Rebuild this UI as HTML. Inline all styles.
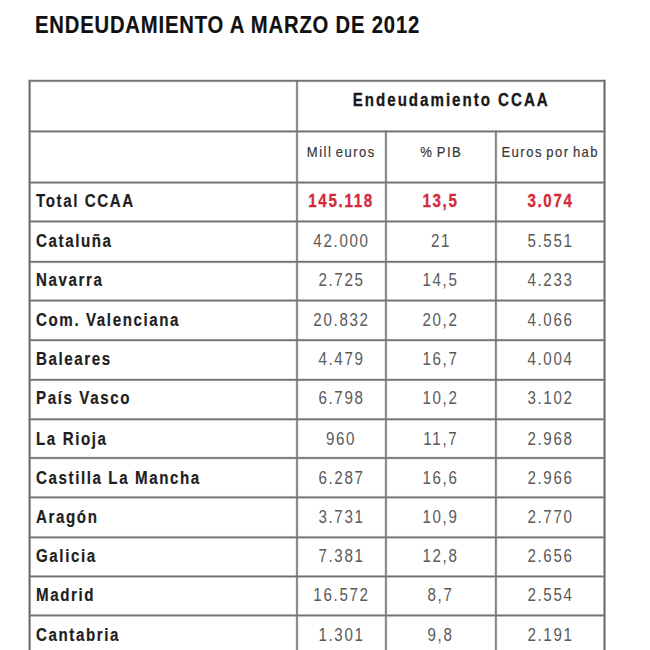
<!DOCTYPE html>
<html><head><meta charset="utf-8"><style>
html,body{margin:0;padding:0;background:#fff;width:650px;height:650px;overflow:hidden;position:relative;font-family:"Liberation Sans",sans-serif;}
.l{position:absolute;background:#767676;}
.t{position:absolute;white-space:nowrap;line-height:1;}
.title{left:35px;top:15.3px;font-size:22.5px;font-weight:bold;color:#111;letter-spacing:0.9px;-webkit-text-stroke:0.2px #111;}
.title span{display:inline-block;transform:scaleX(0.9) scaleY(1.035);transform-origin:0 80%;}
.hd{font-size:18px;font-weight:bold;color:#181818;letter-spacing:2.36px;-webkit-text-stroke:0.3px #181818;}
.hd span{display:inline-block;transform:scaleX(0.84);}
.sh{font-size:14.5px;color:#383838;letter-spacing:1.65px;word-spacing:-2px;-webkit-text-stroke:0.2px #383838;}
.sh span{display:inline-block;transform:scaleX(0.9);}
.lb{font-size:18px;font-weight:bold;color:#1e1e1e;letter-spacing:1.9px;-webkit-text-stroke:0.2px #1e1e1e;}
.lb span{display:inline-block;transform:scaleX(0.84);transform-origin:0 50%;}
.v{font-size:18px;color:#5a5a5a;letter-spacing:2px;}
.v span,.r span{display:inline-block;transform:scaleX(0.84);}
.r{font-size:18px;font-weight:bold;color:#d42a3c;letter-spacing:2px;-webkit-text-stroke:0.3px #d42a3c;}
.c{display:flex;align-items:center;justify-content:center;}
#w{position:absolute;left:0;top:0;width:650px;height:650px;}
</style></head><body><div id="w">
<div class="t title"><span>ENDEUDAMIENTO A MARZO DE 2012</span></div>
<svg style="position:absolute;left:0;top:0" width="650" height="650" shape-rendering="geometricPrecision"><rect x="28.10" y="79.30" width="3.00" height="577.00" fill="#e0e0e0"/><rect x="295.50" y="79.30" width="3.00" height="577.00" fill="#e0e0e0"/><rect x="384.40" y="129.95" width="3.00" height="526.35" fill="#e0e0e0"/><rect x="494.40" y="129.95" width="3.00" height="526.35" fill="#e0e0e0"/><rect x="603.00" y="79.30" width="3.00" height="577.00" fill="#e0e0e0"/><rect x="28.10" y="79.30" width="577.90" height="3.00" fill="#e0e0e0"/><rect x="28.10" y="129.95" width="577.90" height="3.00" fill="#e0e0e0"/><rect x="28.10" y="181.05" width="577.90" height="3.00" fill="#e0e0e0"/><rect x="28.10" y="219.94" width="577.90" height="3.00" fill="#e0e0e0"/><rect x="28.10" y="260.33" width="577.90" height="3.00" fill="#e0e0e0"/><rect x="28.10" y="299.04" width="577.90" height="3.00" fill="#e0e0e0"/><rect x="28.10" y="338.68" width="577.90" height="3.00" fill="#e0e0e0"/><rect x="28.10" y="378.33" width="577.90" height="3.00" fill="#e0e0e0"/><rect x="28.10" y="417.80" width="577.90" height="3.00" fill="#e0e0e0"/><rect x="28.10" y="456.50" width="577.90" height="3.00" fill="#e0e0e0"/><rect x="28.10" y="495.87" width="577.90" height="3.00" fill="#e0e0e0"/><rect x="28.10" y="535.87" width="577.90" height="3.00" fill="#e0e0e0"/><rect x="28.10" y="574.96" width="577.90" height="3.00" fill="#e0e0e0"/><rect x="28.10" y="613.96" width="577.90" height="3.00" fill="#e0e0e0"/><rect x="28.10" y="653.30" width="577.90" height="3.00" fill="#e0e0e0"/><rect x="28.75" y="79.95" width="1.70" height="575.70" fill="#626262"/><rect x="296.15" y="79.95" width="1.70" height="575.70" fill="#7e7e7e"/><rect x="385.05" y="130.60" width="1.70" height="525.05" fill="#7e7e7e"/><rect x="495.05" y="130.60" width="1.70" height="525.05" fill="#7e7e7e"/><rect x="603.65" y="79.95" width="1.70" height="575.70" fill="#626262"/><rect x="28.75" y="79.95" width="576.60" height="1.70" fill="#727272"/><rect x="28.75" y="130.60" width="576.60" height="1.70" fill="#727272"/><rect x="28.75" y="181.70" width="576.60" height="1.70" fill="#727272"/><rect x="28.75" y="220.59" width="576.60" height="1.70" fill="#727272"/><rect x="28.75" y="260.98" width="576.60" height="1.70" fill="#727272"/><rect x="28.75" y="299.69" width="576.60" height="1.70" fill="#727272"/><rect x="28.75" y="339.33" width="576.60" height="1.70" fill="#727272"/><rect x="28.75" y="378.98" width="576.60" height="1.70" fill="#727272"/><rect x="28.75" y="418.45" width="576.60" height="1.70" fill="#727272"/><rect x="28.75" y="457.15" width="576.60" height="1.70" fill="#727272"/><rect x="28.75" y="496.52" width="576.60" height="1.70" fill="#727272"/><rect x="28.75" y="536.52" width="576.60" height="1.70" fill="#727272"/><rect x="28.75" y="575.61" width="576.60" height="1.70" fill="#727272"/><rect x="28.75" y="614.61" width="576.60" height="1.70" fill="#727272"/><rect x="28.75" y="653.95" width="576.60" height="1.70" fill="#727272"/></svg>
<div class="t c hd" style="left:297.00px;top:74.80px;width:307.50px;height:50.65px"><span>Endeudamiento CCAA</span></div>
<div class="t c sh" style="left:297.00px;top:126.95px;width:88.90px;height:51.10px"><span>Mill euros</span></div>
<div class="t c sh" style="left:385.90px;top:126.95px;width:110.00px;height:51.10px"><span>% PIB</span></div>
<div class="t c sh" style="left:495.90px;top:126.95px;width:108.60px;height:51.10px"><span>Euros por hab</span></div>
<div class="t c lb" style="left:35.50px;top:181.80px;height:38.89px;justify-content:flex-start"><span>Total CCAA</span></div>
<div class="t c r" style="left:297.00px;top:181.80px;width:88.90px;height:38.89px"><span>145.118</span></div>
<div class="t c r" style="left:385.90px;top:181.80px;width:110.00px;height:38.89px"><span>13,5</span></div>
<div class="t c r" style="left:495.90px;top:181.80px;width:108.60px;height:38.89px"><span>3.074</span></div>
<div class="t c lb" style="left:35.50px;top:220.89px;height:40.39px;justify-content:flex-start"><span>Cataluña</span></div>
<div class="t c v" style="left:297.00px;top:220.89px;width:88.90px;height:40.39px"><span>42.000</span></div>
<div class="t c v" style="left:385.90px;top:220.89px;width:110.00px;height:40.39px"><span>21</span></div>
<div class="t c v" style="left:495.90px;top:220.89px;width:108.60px;height:40.39px"><span>5.551</span></div>
<div class="t c lb" style="left:35.50px;top:260.48px;height:38.71px;justify-content:flex-start"><span>Navarra</span></div>
<div class="t c v" style="left:297.00px;top:260.48px;width:88.90px;height:38.71px"><span>2.725</span></div>
<div class="t c v" style="left:385.90px;top:260.48px;width:110.00px;height:38.71px"><span>14,5</span></div>
<div class="t c v" style="left:495.90px;top:260.48px;width:108.60px;height:38.71px"><span>4.233</span></div>
<div class="t c lb" style="left:35.50px;top:299.99px;height:39.64px;justify-content:flex-start"><span>Com. Valenciana</span></div>
<div class="t c v" style="left:297.00px;top:299.99px;width:88.90px;height:39.64px"><span>20.832</span></div>
<div class="t c v" style="left:385.90px;top:299.99px;width:110.00px;height:39.64px"><span>20,2</span></div>
<div class="t c v" style="left:495.90px;top:299.99px;width:108.60px;height:39.64px"><span>4.066</span></div>
<div class="t c lb" style="left:35.50px;top:339.18px;height:39.65px;justify-content:flex-start"><span>Baleares</span></div>
<div class="t c v" style="left:297.00px;top:339.18px;width:88.90px;height:39.65px"><span>4.479</span></div>
<div class="t c v" style="left:385.90px;top:339.18px;width:110.00px;height:39.65px"><span>16,7</span></div>
<div class="t c v" style="left:495.90px;top:339.18px;width:108.60px;height:39.65px"><span>4.004</span></div>
<div class="t c lb" style="left:35.50px;top:378.58px;height:39.47px;justify-content:flex-start"><span>País Vasco</span></div>
<div class="t c v" style="left:297.00px;top:378.58px;width:88.90px;height:39.47px"><span>6.798</span></div>
<div class="t c v" style="left:385.90px;top:378.58px;width:110.00px;height:39.47px"><span>10,2</span></div>
<div class="t c v" style="left:495.90px;top:378.58px;width:108.60px;height:39.47px"><span>3.102</span></div>
<div class="t c lb" style="left:35.50px;top:419.25px;height:38.70px;justify-content:flex-start"><span>La Rioja</span></div>
<div class="t c v" style="left:297.00px;top:419.25px;width:88.90px;height:38.70px"><span>960</span></div>
<div class="t c v" style="left:385.90px;top:419.25px;width:110.00px;height:38.70px"><span>11,7</span></div>
<div class="t c v" style="left:495.90px;top:419.25px;width:108.60px;height:38.70px"><span>2.968</span></div>
<div class="t c lb" style="left:35.50px;top:457.95px;height:39.37px;justify-content:flex-start"><span>Castilla La Mancha</span></div>
<div class="t c v" style="left:297.00px;top:457.95px;width:88.90px;height:39.37px"><span>6.287</span></div>
<div class="t c v" style="left:385.90px;top:457.95px;width:110.00px;height:39.37px"><span>16,6</span></div>
<div class="t c v" style="left:495.90px;top:457.95px;width:108.60px;height:39.37px"><span>2.966</span></div>
<div class="t c lb" style="left:35.50px;top:496.72px;height:40.00px;justify-content:flex-start"><span>Aragón</span></div>
<div class="t c v" style="left:297.00px;top:496.72px;width:88.90px;height:40.00px"><span>3.731</span></div>
<div class="t c v" style="left:385.90px;top:496.72px;width:110.00px;height:40.00px"><span>10,9</span></div>
<div class="t c v" style="left:495.90px;top:496.72px;width:108.60px;height:40.00px"><span>2.770</span></div>
<div class="t c lb" style="left:35.50px;top:536.32px;height:39.09px;justify-content:flex-start"><span>Galicia</span></div>
<div class="t c v" style="left:297.00px;top:536.32px;width:88.90px;height:39.09px"><span>7.381</span></div>
<div class="t c v" style="left:385.90px;top:536.32px;width:110.00px;height:39.09px"><span>12,8</span></div>
<div class="t c v" style="left:495.90px;top:536.32px;width:108.60px;height:39.09px"><span>2.656</span></div>
<div class="t c lb" style="left:35.50px;top:575.71px;height:39.00px;justify-content:flex-start"><span>Madrid</span></div>
<div class="t c v" style="left:297.00px;top:575.71px;width:88.90px;height:39.00px"><span>16.572</span></div>
<div class="t c v" style="left:385.90px;top:575.71px;width:110.00px;height:39.00px"><span>8,7</span></div>
<div class="t c v" style="left:495.90px;top:575.71px;width:108.60px;height:39.00px"><span>2.554</span></div>
<div class="t c lb" style="left:35.50px;top:615.21px;height:39.34px;justify-content:flex-start"><span>Cantabria</span></div>
<div class="t c v" style="left:297.00px;top:615.21px;width:88.90px;height:39.34px"><span>1.301</span></div>
<div class="t c v" style="left:385.90px;top:615.21px;width:110.00px;height:39.34px"><span>9,8</span></div>
<div class="t c v" style="left:495.90px;top:615.21px;width:108.60px;height:39.34px"><span>2.191</span></div>
</div></body></html>
